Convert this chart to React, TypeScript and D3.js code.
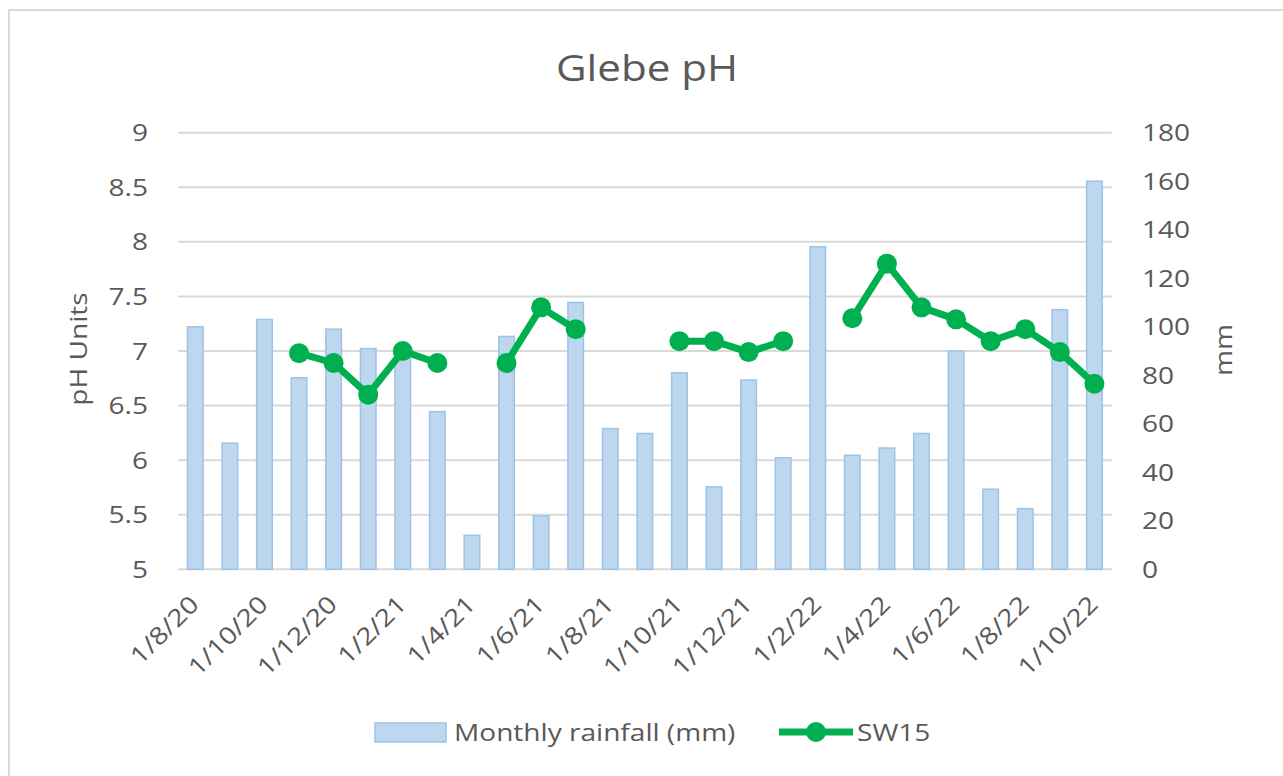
import React from 'react';
import * as d3 from 'd3';

const months = [
  '1/8/20', '1/9/20', '1/10/20', '1/11/20', '1/12/20', '1/1/21', '1/2/21', '1/3/21', '1/4/21',
  '1/5/21', '1/6/21', '1/7/21', '1/8/21', '1/9/21', '1/10/21', '1/11/21', '1/12/21', '1/1/22',
  '1/2/22', '1/3/22', '1/4/22', '1/5/22', '1/6/22', '1/7/22', '1/8/22', '1/9/22', '1/10/22',
];

const rainfall = [
  100, 52, 103, 79, 99, 91, 88, 65, 14, 96, 22, 110, 58, 56, 81, 34, 78, 46,
  133, 47, 50, 56, 90, 33, 25, 107, 160,
];

const sw15: (number | null)[] = [
  null, null, null, 6.98, 6.89, 6.6, 7.0, 6.89, null, 6.89, 7.4, 7.2, null, null, 7.09, 7.09, 6.99, 7.09,
  null, 7.3, 7.8, 7.4, 7.29, 7.09, 7.2, 6.99, 6.7,
];

const phTicks = [5, 5.5, 6, 6.5, 7, 7.5, 8, 8.5, 9];
const mmTicks = [0, 20, 40, 60, 80, 100, 120, 140, 160, 180];

const W = 1283, H = 776;
const plot = { top: 132.7, right: 1111.7, bottom: 569.3, left: 178 };
const font = '"Open Sans", Lato, sans-serif';
const textColor = '#595959';
const barFill = '#bdd7ee';
const barStroke = '#9dc3e6';
const green = '#00b050';
// the reference glyphs are wider than Open Sans at the same height
const stretch = 1.17;

type LabelProps = {
  x: number; y: number; rotate?: number; anchor?: string; size?: number; dy?: string;
  children: React.ReactNode;
};

const Label = ({ x, y, rotate = 0, anchor = 'start', size = 24, dy, children }: LabelProps) => (
  <text transform={`translate(${x},${y}) rotate(${rotate}) scale(${stretch},1)`}
    textAnchor={anchor} fontSize={size} dy={dy} fill={textColor}>{children}</text>
);

const App = () => {
  const x = d3.scaleBand<number>()
    .domain(months.map((_, i) => i))
    .range([plot.left, plot.right])
    .paddingInner(0.55)
    .paddingOuter(0.275);

  const yPh = d3.scaleLinear().domain([5, 9]).range([plot.bottom, plot.top]);
  const yMm = d3.scaleLinear().domain([0, 180]).range([plot.bottom, plot.top]);

  const cx = (i: number) => (x(i) as number) + x.bandwidth() / 2;

  const line = d3.line<number | null>()
    .defined(d => d !== null)
    .x((_, i) => cx(i))
    .y(d => yPh(d as number));

  return (
    <svg width={W} height={H} style={{ position: 'fixed', left: 0, top: 0, background: '#fff' }}
      fontFamily={font}>
      <rect x={9} y={10} width={W + 20} height={H + 20} fill="#fff" stroke="#d9d9d9" strokeWidth={2} />

      <Label x={647} y={81} anchor="middle" size={36}>Glebe pH</Label>

      {/* grid */}
      {phTicks.map(t => (
        <line key={t} x1={plot.left} x2={plot.right} y1={yPh(t)} y2={yPh(t)}
          stroke="#d9d9d9" strokeWidth={2} />
      ))}

      {phTicks.map(t => (
        <Label key={t} x={148} y={yPh(t)} dy="0.36em" anchor="end">{t}</Label>
      ))}

      {mmTicks.map(t => (
        <Label key={t} x={1142} y={yMm(t)} dy="0.36em">{t}</Label>
      ))}

      <Label x={87} y={349} rotate={-90} anchor="middle">pH Units</Label>
      <Label x={1232} y={350} rotate={-90} anchor="middle">mm</Label>

      {/* bars */}
      {rainfall.map((v, i) => (
        <rect key={i} x={x(i)} y={yMm(v)} width={x.bandwidth()} height={yMm(0) - yMm(v)}
          fill={barFill} stroke={barStroke} strokeWidth={1.5} />
      ))}

      {/* SW15 line */}
      <path d={line(sw15) || ''} fill="none" stroke={green} strokeWidth={7} strokeLinejoin="round" />
      {sw15.map((v, i) => v === null ? null : (
        <circle key={i} cx={cx(i)} cy={yPh(v)} r={10} fill={green} />
      ))}

      {/* x labels */}
      {months.map((m, i) => i % 2 !== 0 ? null : (
        <Label key={m} x={cx(i) + 5} y={606} rotate={-45} anchor="end">{m}</Label>
      ))}

      {/* legend */}
      <rect x={375} y={723} width={71} height={19} fill={barFill} stroke={barStroke} strokeWidth={1.5} />
      <Label x={454} y={741}>Monthly rainfall (mm)</Label>
      <line x1={779} x2={853} y1={732} y2={732} stroke={green} strokeWidth={7} />
      <circle cx={816} cy={732} r={10} fill={green} />
      <Label x={857} y={741}>SW15</Label>
    </svg>
  );
};

export default App;
